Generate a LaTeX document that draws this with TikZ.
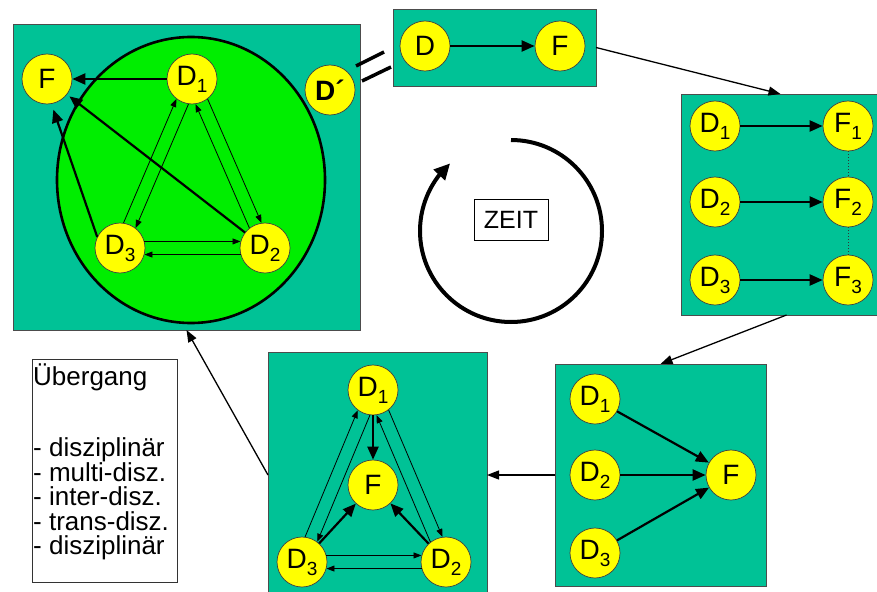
\documentclass[tikz,border=0pt]{standalone}
\usepackage{fontspec}
\setmainfont{Liberation Sans}
\usetikzlibrary{arrows.meta,bending,shapes.geometric}

\definecolor{panel}{RGB}{0,194,150}
\definecolor{core}{RGB}{0,238,0}
\definecolor{disc}{RGB}{255,255,0}

% letter with a lowered index
\newcommand\sublbl[2]{#1\raisebox{-7pt}{\fontsize{19}{19}\selectfont #2}}

\tikzset{
  panel/.style={draw=black!70, line width=0.9pt, fill=panel, anchor=north west,
    inner sep=0pt, outer sep=0pt},
  ball/.style={circle, draw=black!75, line width=0.7pt, fill=disc, minimum size=50pt,
    inner sep=0pt, font=\fontsize{28}{28}\selectfont},
  strong/.style={line width=2.2pt, -{Triangle[length=13pt,width=11pt]}},
  weak/.style={line width=0.8pt, -{Triangle[length=8pt,width=6pt]}},
  flow/.style={line width=1.3pt, -{Triangle[length=12pt,width=9pt]}},
  link/.style={dotted, line width=1pt, black!80},
}

\begin{document}
\begin{tikzpicture}[x=1pt,y=-1pt]
\useasboundingbox (0,0) rectangle (877,591);
\clip (0,0) rectangle (877,591);

% ---- panels ----
\node[panel, minimum width=347pt, minimum height=306pt] (b1) at (13,24) {};
\node[panel, minimum width=203pt, minimum height=77pt]  (b2) at (393,9) {};
\node[panel, minimum width=199pt, minimum height=221pt] (b3) at (681,94) {};
\node[panel, minimum width=211pt, minimum height=222pt] (b4) at (555,364) {};
\node[panel, minimum width=219pt, minimum height=246pt] (b5) at (268,352) {};

% ---- panel 1: integrated discipline ----
\node[ellipse, draw=black, line width=2.6pt, fill=core, minimum width=268pt,
      minimum height=286pt, inner sep=0pt] (core) at (191,180) {};
\node[ball] (b1f)  at (47,79)   {F};
\node[ball] (b1d1) at (192,79)  {\sublbl{D}{1}};
\node[ball] (b1d2) at (265,248) {\sublbl{D}{2}};
\node[ball] (b1d3) at (120,248) {\sublbl{D}{3}};
\node[ball] (b1dp) at (330,90)  {\textbf{D´}};

\draw[strong] (b1d1) -- (b1f);
\draw[strong, shorten >=3pt] (b1d2) -- (b1f);
\draw[strong, shorten >=6pt] (b1d3.154) -- (b1f.-80);
\draw[weak] (b1d3.82)  -- (b1d1.232);
\draw[weak] (b1d1.262) -- (b1d3.52);
\draw[weak] (b1d2.128) -- (b1d1.278);
\draw[weak] (b1d1.308) -- (b1d2.98);
\draw[weak] (b1d3.15)  -- (b1d2.165);
\draw[weak] (b1d2.195) -- (b1d3.345);

% equality mark between D' and the single discipline
\coordinate (eqa1) at (356,66);
\coordinate (eqa2) at (384,52);
\coordinate (eqb1) at (362,81);
\coordinate (eqb2) at (391,67);
\draw[line width=3.5pt] (eqa1) -- (eqa2);
\draw[line width=3.5pt] (eqb1) -- (eqb2);

% ---- panel 2: one discipline ----
\node[ball] (b2d) at (425,46) {D};
\node[ball] (b2f) at (560,46) {F};
\draw[strong] (b2d) -- (b2f);

% ---- panel 3: disciplines side by side ----
\node[ball] (b3d1) at (715,126) {\sublbl{D}{1}};
\node[ball] (b3f1) at (848,126) {\sublbl{F}{1}};
\node[ball] (b3d2) at (715,202) {\sublbl{D}{2}};
\node[ball] (b3f2) at (848,202) {\sublbl{F}{2}};
\node[ball] (b3d3) at (715,280) {\sublbl{D}{3}};
\node[ball] (b3f3) at (848,280) {\sublbl{F}{3}};
\draw[strong] (b3d1) -- (b3f1);
\draw[strong] (b3d2) -- (b3f2);
\draw[strong] (b3d3) -- (b3f3);
\draw[link] (b3f1) -- (b3f2);
\draw[link] (b3f2) -- (b3f3);

% ---- panel 4: converging on one question ----
\node[ball] (b4d1) at (595,399) {\sublbl{D}{1}};
\node[ball] (b4d2) at (595,475) {\sublbl{D}{2}};
\node[ball] (b4d3) at (595,553) {\sublbl{D}{3}};
\node[ball] (b4f)  at (731,475) {F};
\draw[strong] (b4d1) -- (b4f);
\draw[strong] (b4d2) -- (b4f);
\draw[strong] (b4d3) -- (b4f);

% ---- panel 5: exchange among disciplines ----
\node[ball] (b5d1) at (373,390) {\sublbl{D}{1}};
\node[ball] (b5f)  at (373,485) {F};
\node[ball] (b5d3) at (302,562) {\sublbl{D}{3}};
\node[ball] (b5d2) at (446,562) {\sublbl{D}{2}};
\draw[strong] (b5d1) -- (b5f);
\draw[strong] (b5d3) -- (b5f);
\draw[strong] (b5d2) -- (b5f);
\draw[weak] (b5d3.83)  -- (b5d1.233);
\draw[weak] (b5d1.263) -- (b5d3.53);
\draw[weak] (b5d2.128) -- (b5d1.278);
\draw[weak] (b5d1.308) -- (b5d2.98);
\draw[weak] (b5d3.15)  -- (b5d2.165);
\draw[weak] (b5d2.195) -- (b5d3.345);

% ---- cycle between the panels ----
\draw[flow] (b2.east) -- (b3.north);
\draw[flow] ([xshift=6pt]b3.south) -- (b4.north);
\draw[flow] (b4.west) -- (b5.east);
\draw[flow] (b5.west) -- (b1.south);

% ---- time cycle ----
\node[draw=black, line width=0.7pt, minimum width=74pt, minimum height=41pt,
      inner sep=0pt, font=\fontsize{25}{25}\selectfont] (zeit) at (511,219.5) {ZEIT};
\coordinate (clock) at (511,231);
\draw[line width=4pt, -{Triangle[length=16pt,width=15pt]}]
  ([shift={(0,-91)}]clock) arc[start angle=-90, end angle=228, radius=91];

% ---- legend ----
\node[draw=black!80, line width=0.7pt, anchor=north west, minimum width=145pt,
      minimum height=223pt, inner sep=0pt] (legend) at (32,359) {};
\node[anchor=north west, align=left, inner sep=0pt,
      font=\fontsize{26}{24.5}\selectfont] (legtext) at (33,364)
  {Übergang\\[46.5pt]- disziplinär\\- multi-disz.\\- inter-disz.\\- trans-disz.\\- disziplinär};
\end{tikzpicture}
\end{document}
